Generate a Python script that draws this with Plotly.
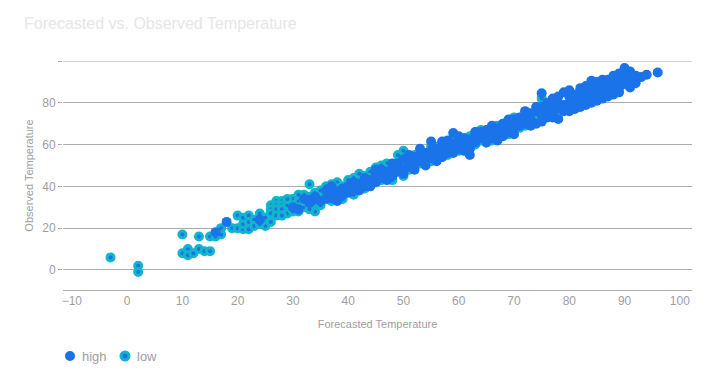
import plotly.graph_objects as go

# Forecasted (x) vs observed (y) — high temperatures
high_forecast = [16, 18, 24, 30, 31, 32, 33, 34, 35, 36, 36, 37, 37, 38, 38, 39, 39, 40, 40, 41, 41,
                 42, 42, 43, 43, 44, 45, 45, 46, 46, 47, 48, 48, 49, 49, 50, 50, 51, 51, 52, 52,
                 53, 53, 54, 54, 55, 55, 56, 56, 57, 57, 58, 58, 59, 59, 60, 60, 61, 61, 62, 62,
                 63, 63, 64, 64, 65, 65, 66, 66, 67, 67, 68, 68, 69, 69, 70, 70, 71, 71, 72, 72,
                 73, 73, 74, 74, 75, 75, 76, 76, 77, 77, 78, 78, 78, 79, 79, 80, 80, 80, 81, 81,
                 82, 82, 82, 83, 83, 84, 84, 84, 85, 85, 86, 86, 86, 87, 87, 88, 88, 88, 89, 89,
                 90, 90, 90, 91, 91, 91, 92, 92, 93, 94, 96,
                 62, 63, 65, 66, 67, 68, 69, 70, 71, 72, 73, 74, 75, 75, 76, 76, 77, 77, 78, 79,
                 80, 80, 81, 81, 82, 82, 83, 83, 84, 84, 85, 85, 86, 86, 87, 87, 88, 88, 89, 89,
                 90, 91, 92, 89, 87, 85,
                 44, 45, 47, 48, 50, 51, 52, 53, 54, 55, 56, 57, 58, 59, 60, 61]
high_observed = [18, 23, 24, 30, 29, 34, 32, 35, 33, 38, 34, 36, 40, 37, 33, 39, 36, 40, 37, 42, 38,
                 41, 38, 40, 44, 43, 46, 42, 44, 48, 47, 45, 49, 47, 51, 48, 53, 50, 52, 51, 54,
                 52, 55, 56, 53, 61.5, 54, 55, 58, 61.5, 57, 56, 60, 65.5, 59, 58, 61, 63, 60, 55, 62,
                 64, 61, 63, 66, 64, 67, 66, 63, 68, 65, 67, 70, 69, 66, 72, 68, 71, 73, 70, 74,
                 75, 72, 70, 76, 84.6, 74, 77, 75, 78, 75, 72.3, 80, 77, 85, 79, 80, 78, 83, 81, 79,
                 83, 80, 85, 84, 81, 90.5, 85, 82, 86, 83, 87, 84, 89, 88, 85, 89, 86, 91, 90, 87,
                 96.6, 93, 89, 87.3, 92, 90, 89.4, 91, 92.3, 93.4, 94.5,
                 58, 66, 61, 69, 62, 64, 72, 65, 69, 76, 69, 78, 71, 78, 73, 80, 82, 73, 83, 76,
                 86, 76, 84, 77, 87, 78, 88, 79, 87, 80, 90, 81, 91, 82, 91, 83, 93, 84, 94, 85,
                 91, 95, 93, 92, 89, 88,
                 40, 48, 43, 51, 46, 55, 48, 58, 50, 57, 52, 54, 62, 56, 64, 57]

# Forecasted (x) vs observed (y) — low temperatures
low_forecast = [-3, 2, 2, 10, 10, 11, 11, 12, 13, 13, 14, 15, 15, 16, 17, 17, 19, 20, 20, 21, 21, 21,
                22, 22, 22, 23, 24, 25, 26, 26, 26, 27, 27, 27, 27, 28, 28, 28, 29, 29, 30, 30,
                31, 31, 32, 32, 33, 33, 34, 34, 34, 35, 35, 36, 36, 37, 37, 38, 38, 39, 39, 40,
                40, 41, 41, 42, 42, 43, 43, 44, 44, 45, 45, 46, 46, 47, 47, 48, 48, 49, 49, 50,
                50, 50, 51, 51, 52, 52, 53, 53, 54, 54, 55, 55, 56, 56, 57, 57, 58, 58, 59, 60,
                60, 61, 62, 62, 63, 64, 64, 65, 66, 66, 67, 68, 68, 69, 70, 70, 71, 72, 72, 73,
                74, 75, 75,
                23, 24, 25, 26, 28, 29, 30, 31, 32, 33, 35, 36, 37, 38, 39, 40, 41, 42, 43, 44,
                45, 46, 47, 48, 49, 51, 52, 53, 54, 55, 56, 57, 58, 59, 60, 61, 62, 63, 63, 64,
                65, 65, 66, 67, 67, 68, 69, 69, 70, 71, 71, 72, 73, 74, 74, 75]
low_observed = [6, 2, -1, 17, 8, 10, 7, 8, 16, 10, 9, 9, 16, 16, 17, 20, 20, 20, 26, 19.5, 22, 25,
                26, 23, 19.5, 24, 27, 21, 31, 29, 27, 33, 31, 29, 26, 33, 31, 29, 31, 27, 34, 31,
                28, 33, 30, 36, 41, 35, 28, 32, 37, 34, 38, 35, 40, 33, 38, 36, 42, 37, 40, 38,
                41, 39, 44, 40, 43, 42, 45, 41, 47, 44, 49, 43, 47, 45, 51, 46, 50, 55, 48, 57,
                45, 52, 48, 54, 50, 55, 51, 57, 53, 56, 52, 57, 54, 59, 56, 61, 55, 60, 58, 57,
                62, 59, 61, 64, 60, 62, 67, 63, 65, 68, 64, 66, 70, 68, 67, 71, 70, 69, 73, 71,
                73, 72, 82,
                21, 22, 25, 23, 26, 34, 28, 36, 33, 29, 31, 37, 41, 39, 34, 43, 36, 46, 39, 44,
                42, 50, 48, 43, 51, 51, 53, 54, 51, 59, 57, 58, 58, 62, 60, 63, 58, 63, 66, 65,
                66, 61, 62, 67, 69, 68, 71, 65, 73, 68, 72, 71, 74, 71, 75, 74]

x_ticks = [-10, 0, 10, 20, 30, 40, 50, 60, 70, 80, 90, 100]
y_ticks = [0, 20, 40, 60, 80, 100]
y_ticktext = ["0", "20", "40", "60", "80", ""]
series_names = ["high", "low"]

BLUE = "#1a73e8"
CYAN = "#12b5cb"
GRID = "#acacac"
TXT = "#9e9e9e"
FONT = "Liberation Sans, Arial, sans-serif"

W, H = 708, 380
L, R, T, B = 63, 16, 61, 90
PW, PH = W - L - R, H - T - B


def px_x(p):
    return (p - L) / PW


def px_y(p):
    return (H - B - p) / PH


fig = go.Figure()
fig.add_trace(go.Scatter(
    x=low_forecast, y=low_observed, mode="markers", name=series_names[1],
    marker=dict(color=BLUE, size=7, line=dict(color=CYAN, width=3)),
    cliponaxis=False, showlegend=False,
))
fig.add_trace(go.Scatter(
    x=high_forecast, y=high_observed, mode="markers", name=series_names[0],
    marker=dict(color=BLUE, size=10, line=dict(width=0)),
    cliponaxis=False, showlegend=False,
))

# top gridline at 100 (plot edge)
shapes = [dict(type="line", xref="paper", yref="y", x0=0, x1=1, y0=100, y1=100,
               line=dict(color=GRID, width=1), layer="below")]
# legend markers
shapes.append(dict(type="circle", xref="paper", yref="paper",
                   x0=px_x(65), x1=px_x(75), y0=px_y(361), y1=px_y(351),
                   fillcolor=BLUE, line=dict(width=0)))
shapes.append(dict(type="circle", xref="paper", yref="paper",
                   x0=px_x(121), x1=px_x(129), y0=px_y(360), y1=px_y(352),
                   fillcolor=BLUE, line=dict(color=CYAN, width=3)))
annotations = [
    dict(text=series_names[0], xref="paper", yref="paper", x=px_x(80), y=px_y(356),
         xanchor="left", yanchor="middle", showarrow=False, font=dict(size=13, color=TXT)),
    dict(text=series_names[1], xref="paper", yref="paper", x=px_x(135), y=px_y(356),
         xanchor="left", yanchor="middle", showarrow=False, font=dict(size=13, color=TXT)),
]

fig.update_layout(
    width=W, height=H,
    margin=dict(l=L, r=R, t=T, b=B),
    paper_bgcolor="white", plot_bgcolor="white",
    font=dict(family=FONT, color=TXT, size=12),
    title=dict(text="Forecasted vs. Observed Temperature", x=24 / W, xanchor="left",
               y=1 - 23 / H, yanchor="middle",
               font=dict(size=16, color="#e6e6e6", family=FONT)),
    showlegend=False,
    shapes=shapes,
    annotations=annotations,
    xaxis=dict(range=[-11.6, 102.2], tickvals=x_ticks, showgrid=False, zeroline=False,
               showline=True, linecolor=GRID, linewidth=1, ticks="", automargin=False,
               tickfont=dict(size=12, color=TXT),
               title=dict(text="Forecasted Temperature", font=dict(size=11, color=TXT), standoff=12)),
    yaxis=dict(range=[-9.6, 100], tickvals=y_ticks, ticktext=y_ticktext, showgrid=True,
               gridcolor=GRID, gridwidth=1, zeroline=False, showline=False, automargin=False,
               ticks="outside", ticklen=4, tickcolor=GRID,
               tickfont=dict(size=12, color=TXT),
               title=dict(text="Observed Temperature", font=dict(size=11, color=TXT), standoff=6)),
)

fig.write_html("out.html", config={"displayModeBar": False},
               post_script="document.body.style.margin='0';document.body.style.padding='0';")
